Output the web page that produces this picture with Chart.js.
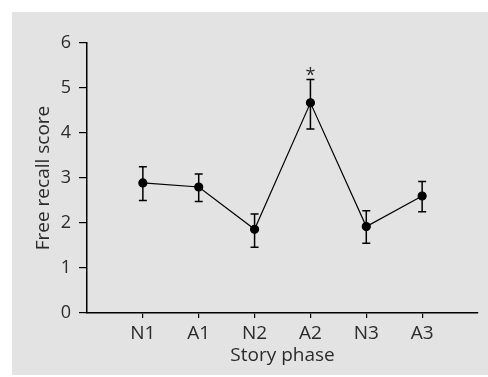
<!DOCTYPE html>
<html>
<head>
<meta charset="utf-8">
<script src="https://cdn.jsdelivr.net/npm/chart.js@4"></script>
<style>
    html, body { margin: 0; padding: 0; background: #fff; }
    #panel { position: absolute; left: 12px; top: 12px; width: 476px; height: 363px; background: #e3e3e3; }
    #chart { display: block; }
</style>
</head>
<body>
<div id="panel"><canvas id="chart" width="476" height="363"></canvas></div>
<script>
    // ===== DATA =====
    const phases = ['N1', 'A1', 'N2', 'A2', 'N3', 'A3'];
    const meanScores = [2.89, 2.80, 1.86, 4.67, 1.92, 2.60];
    const errUpper = [3.25, 3.09, 2.20, 5.19, 2.27, 2.92];
    const errLower = [2.50, 2.48, 1.46, 4.09, 1.55, 2.25];
    const markedPhases = ['A2'];
    const yTicks = [0, 1, 2, 3, 4, 5, 6];

    const textColor = '#2b2b2b';
    const fontFamily = '"Open Sans", "Noto Sans", sans-serif';

    // error bars + significance marks
    const errorBarsPlugin = {
        id: 'errorBars',
        beforeDatasetsDraw(chart) {
            const ctx = chart.ctx;
            const xs = chart.scales.x, ys = chart.scales.y;
            ctx.save();
            ctx.strokeStyle = '#000';
            ctx.lineWidth = 1.5;
            phases.forEach((p, i) => {
                const x = xs.getPixelForValue(i + 1);
                const yt = ys.getPixelForValue(errUpper[i]);
                const yb = ys.getPixelForValue(errLower[i]);
                ctx.beginPath();
                ctx.moveTo(x, yt); ctx.lineTo(x, yb);
                ctx.moveTo(x - 4, yt); ctx.lineTo(x + 4, yt);
                ctx.moveTo(x - 4, yb); ctx.lineTo(x + 4, yb);
                ctx.stroke();
            });
            ctx.fillStyle = textColor;
            ctx.font = '18px ' + fontFamily;
            ctx.textAlign = 'center';
            ctx.textBaseline = 'middle';
            markedPhases.forEach(p => {
                const i = phases.indexOf(p);
                const x = xs.getPixelForValue(i + 1);
                const y = ys.getPixelForValue(errUpper[i]);
                ctx.fillText('*', x, y - 4);
            });
            ctx.restore();
        }
    };

    new Chart(document.getElementById('chart'), {
        type: 'line',
        data: {
            datasets: [{
                data: meanScores.map((v, i) => ({ x: i + 1, y: v })),
                borderColor: '#000',
                borderWidth: 1.2,
                pointBackgroundColor: '#000',
                pointBorderColor: '#000',
                pointRadius: 4,
                tension: 0,
                fill: false
            }]
        },
        options: {
            responsive: false,
            animation: false,
            layout: { padding: { left: 0, top: 31, right: 10, bottom: 0 } },
            plugins: { legend: { display: false }, tooltip: { enabled: false } },
            scales: {
                x: {
                    type: 'linear',
                    min: 0,
                    max: phases.length + 1,
                    afterBuildTicks(scale) {
                        scale.ticks = phases.map((p, i) => ({ value: i + 1 }));
                    },
                    afterFit(scale) { scale.height = 62; },
                    border: { display: true, color: '#000', width: 1.5 },
                    grid: { drawOnChartArea: false, drawTicks: true, tickLength: 5, color: '#000', lineWidth: 1.2 },
                    ticks: {
                        color: textColor,
                        font: { family: fontFamily, size: 19 },
                        padding: 4,
                        maxRotation: 0,
                        callback: v => phases[v - 1] || ''
                    },
                    title: {
                        display: true,
                        text: 'Story phase',
                        color: textColor,
                        font: { family: fontFamily, size: 19 },
                        padding: { top: 0, bottom: 8 }
                    }
                },
                y: {
                    min: 0,
                    max: 6,
                    afterBuildTicks(scale) {
                        scale.ticks = yTicks.map(v => ({ value: v }));
                    },
                    afterFit(scale) { scale.width = 75; },
                    border: { display: true, color: '#000', width: 1.5 },
                    grid: { drawOnChartArea: false, drawTicks: true, tickLength: 8, color: '#000', lineWidth: 1.2 },
                    ticks: {
                        color: textColor,
                        font: { family: fontFamily, size: 18 },
                        padding: 8
                    },
                    title: {
                        display: true,
                        text: 'Free recall score',
                        color: textColor,
                        font: { family: fontFamily, size: 19 },
                        padding: { top: 20, bottom: 0 }
                    }
                }
            }
        },
        plugins: [errorBarsPlugin]
    });
</script>
</body>
</html>
